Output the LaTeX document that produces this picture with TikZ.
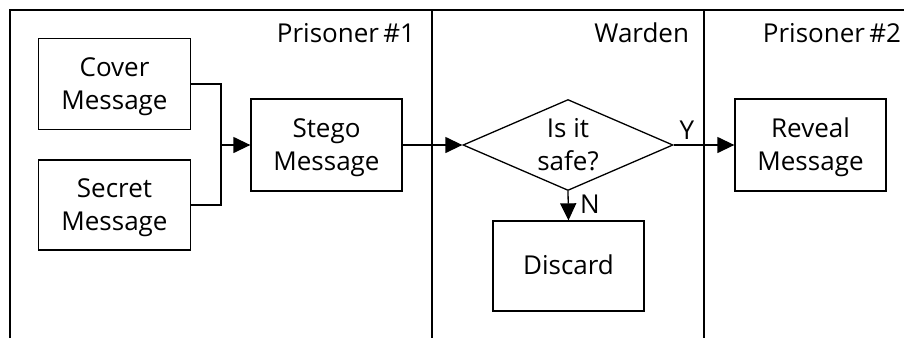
\documentclass[tikz,border=0pt]{standalone}
\usepackage{fontspec}
\setmainfont{Open Sans}
\usetikzlibrary{arrows.meta,shapes.geometric}
% line strut: every text line gets the same height and depth
\newcommand\ls{\rule[-8pt]{0pt}{33pt}}
\begin{document}
\begin{tikzpicture}[x=1pt,y=-1pt,
  line width=1.3pt,
  every node/.style={font=\fontsize{26}{33}\selectfont, text=black},
  box/.style={draw, rectangle, inner sep=0pt, align=center},
  decision/.style={draw, diamond, inner sep=0pt, minimum width=210pt, minimum height=91pt},
  arr/.style={-{Triangle[length=17pt,width=16pt]}},
  lane/.style={anchor=base east}
]
\useasboundingbox (0,0) rectangle (904,338);

% swimlane frame
\draw (10,338) -- (10,10) -- (904,10);
\draw (432,10) -- (432,338);
\draw (704,10) -- (704,338);
\node[lane] (p1) at (419,42) {Prisoner\,\#1};
\node[lane] (wd) at (693,42) {Warden};
\node[lane] (p2) at (905,42) {Prisoner\,\#2};

% steps
\node[box, minimum width=152.5pt, minimum height=91.5pt] (cover) at (114.5,84) {\ls Cover\\\ls Message};
\node[box, minimum width=152.5pt, minimum height=90pt] (secret) at (114.5,205) {\ls Secret\\\ls Message};
\node[box, minimum width=151pt, minimum height=92pt] (stego) at (326.5,145) {\ls Stego\\\ls Message};
\node[decision] (safe) at (568,145) {};
\node[align=center] (safetext) at (safe.center) {\ls Is it\\\ls safe?};
\node[box, minimum width=151pt, minimum height=92pt] (reveal) at (810.5,145) {\ls Reveal\\\ls Message};
\node[box, minimum width=151pt, minimum height=90pt] (discard) at (568.5,266) {\ls Discard};

% connectors
\coordinate (join) at (221,145);
\draw (cover.east) -| (join) |- (secret.east);
\draw[arr] (join) -- (stego.west);
\draw[arr] (stego.east) -- (safe.west);
\draw[arr] (safe.east) -- (reveal.west);
\draw[arr] (safe.south) -- (discard.north);
\node (yes) at (687,130) {Y};
\node (no) at (590,204) {N};
\end{tikzpicture}
\end{document}
